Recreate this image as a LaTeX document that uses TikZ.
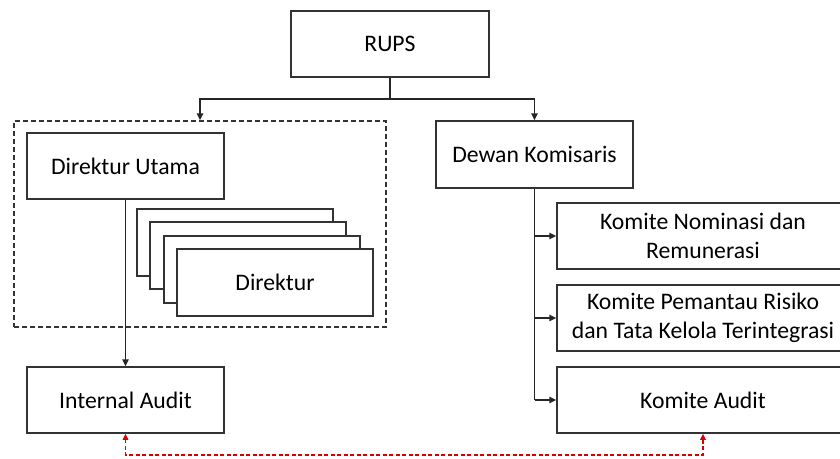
\documentclass[tikz,border=0pt]{standalone}
\usepackage{fontspec}
\setmainfont{Carlito}
\usetikzlibrary{arrows.meta}
\begin{document}
\begin{tikzpicture}[x=1pt,y=-1pt,
  box/.style={draw=black!80, line width=1.5pt, fill=white, align=center, inner sep=0pt,
    minimum width=197pt, minimum height=66pt,
    font=\fontsize{23.7}{29}\selectfont},
  kbox/.style={box, minimum width=292pt},
  dashbox/.style={draw=black!80, line width=1.4pt, dash pattern=on 5pt off 3pt,
    minimum width=372pt, minimum height=206pt, inner sep=0pt},
  conn/.style={draw=black!85, line width=1.5pt},
  arr/.style={conn, -{Triangle[length=7pt,width=6.5pt]}},
  redarr/.style={draw=red!85!black, line width=1.4pt, dash pattern=on 4pt off 2.5pt,
    {Triangle[length=6pt,width=5.5pt]}-{Triangle[length=6pt,width=5.5pt]}}
]
\useasboundingbox (0,0) rectangle (840,458);
\clip (0,0) rectangle (840,458);

\node[box, minimum width=198pt] (rups) at (390,44) {RUPS};
\node[dashbox] (grp) at (200,224) {};
\node[box] (du) at (125.5,166) {Direktur Utama};
\node[box, minimum height=67pt] (dk) at (534.5,154.5) {Dewan Komisaris};

\node[box, minimum width=196pt, minimum height=67pt] (d1) at (235,242.5) {};
\node[box, minimum width=196pt, minimum height=67pt] (d2) at (248,255.5) {};
\node[box, minimum width=196pt, minimum height=67pt] (d3) at (262,269.5) {};
\node[box, minimum width=196pt, minimum height=67pt] (d4) at (275,282.5) {Direktur};

\node[box] (ia) at (125.5,400) {Internal Audit};

\node[kbox] (k1) at (703,236) {Komite Nominasi dan\\Remunerasi};
\node[kbox] (k2) at (703,318) {Komite Pemantau Risiko\\dan Tata Kelola Terintegrasi};
\node[kbox] (k3) at (703,400) {Komite Audit};

% RUPS connectors
\coordinate (j) at (390,99);
\draw[conn] (rups.south) -- (j);
\draw[arr] (j) -| (grp.north);
\draw[arr] (j) -| (dk.north);

% Direktur Utama -> Internal Audit
\draw[arr] (du.south) -- (ia.north);

% Dewan Komisaris -> committees
\draw[conn] (dk.south) -- (dk.south |- k3.west);
\draw[arr] (dk.south |- k1.west) -- (k1.west);
\draw[arr] (dk.south |- k2.west) -- (k2.west);
\draw[arr] (dk.south |- k3.west) -- (k3.west);

% red dashed link
\coordinate (r1) at (125.5,455);
\draw[redarr] (ia.south) -- (r1) -| (k3.south);
\end{tikzpicture}
\end{document}
